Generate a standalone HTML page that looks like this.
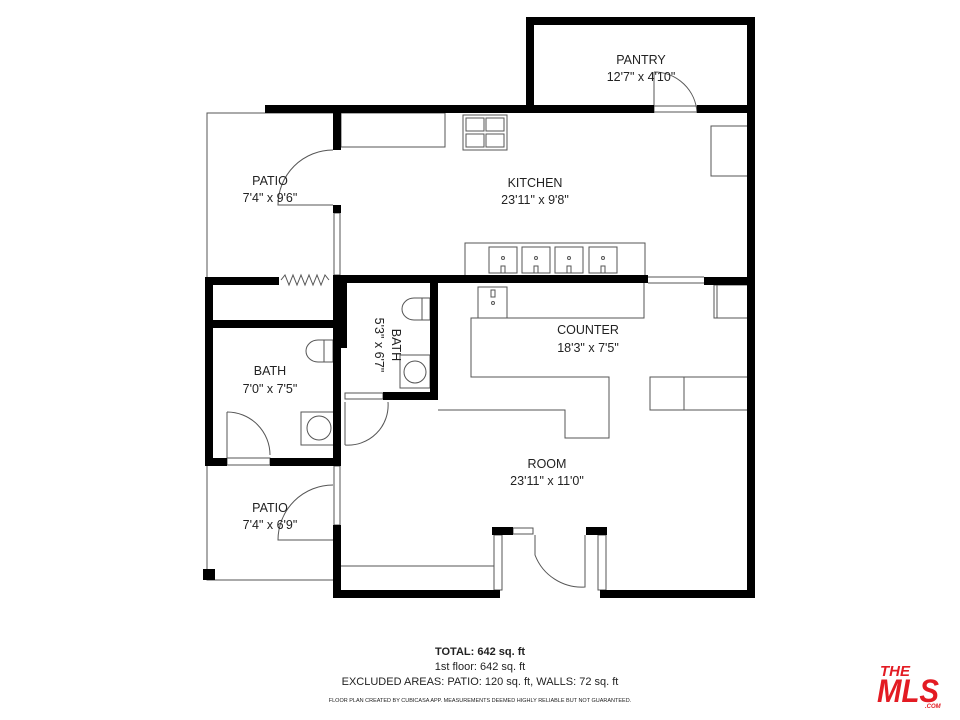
<!DOCTYPE html>
<html><head><meta charset="utf-8"><style>
html,body{margin:0;padding:0;background:#fff;}
svg{display:block;}
text{font-family:"Liberation Sans",sans-serif;fill:#222;}
</style></head><body>
<svg width="960" height="720" viewBox="0 0 960 720" xmlns="http://www.w3.org/2000/svg">
<rect width="960" height="720" fill="#fff"/>
<!-- thin outlines -->
<g fill="none" stroke="#555" stroke-width="1">
  <!-- patio 1 -->
  <polyline points="333,113 207,113 207,277"/>
  <!-- patio 2 -->
  <polyline points="207,466 207,580 333,580"/>
  <!-- kitchen counter top-left -->
  <rect x="341" y="113" width="104" height="34"/>
  <!-- stove -->
  <rect x="463" y="115" width="44" height="35"/>
  <rect x="466" y="118" width="18" height="13"/><rect x="486" y="118" width="18" height="13"/>
  <rect x="466" y="134" width="18" height="13"/><rect x="486" y="134" width="18" height="13"/>
  <!-- kitchen right appliance -->
  <rect x="711" y="126" width="37" height="50"/>
  <!-- island -->
  <rect x="465" y="243" width="180" height="34"/>
  <rect x="489" y="247" width="28" height="26"/><rect x="522" y="247" width="28" height="26"/>
  <rect x="555" y="247" width="28" height="26"/><rect x="589" y="247" width="28" height="26"/>
  <circle cx="503" cy="258" r="1.5"/><circle cx="536" cy="258" r="1.5"/><circle cx="569" cy="258" r="1.5"/><circle cx="603" cy="258" r="1.5"/>
  <rect x="501" y="266" width="4" height="7"/><rect x="534" y="266" width="4" height="7"/><rect x="567" y="266" width="4" height="7"/><rect x="601" y="266" width="4" height="7"/>
  <!-- counter polygon -->
  <polyline points="644,283 644,318 471,318 471,377 609,377 609,438 565,438 565,410 438,410"/>
  <!-- sink on counter -->
  <rect x="478" y="287" width="29" height="31"/><circle cx="493" cy="303" r="1.5"/><rect x="491" y="290" width="4" height="7"/>
  <!-- fridge right -->
  <rect x="714" y="285" width="34" height="33"/>
  <line x1="717" y1="285" x2="717" y2="318"/>
  <!-- right counter -->
  <rect x="650" y="377" width="98" height="33"/><line x1="684" y1="377" x2="684" y2="410"/>
  <!-- small bath toilet & sink -->
  <path d="M414,298 h16 v22 h-16 a12,11 0 0 1 0,-22z"/><line x1="422" y1="298" x2="422" y2="320"/>
  <rect x="400" y="355" width="30" height="33"/><circle cx="415" cy="372" r="11"/>
  <!-- big bath toilet & sink -->
  <path d="M318,340 h15 v22 h-15 a12,11 0 0 1 0,-22z"/><line x1="324" y1="340" x2="324" y2="362"/>
  <rect x="301" y="412" width="33" height="33"/><circle cx="319" cy="428" r="12"/>
  <!-- doors -->
  <path d="M333,150 A55,55 0 0 0 278,205 L333,205"/>
  <path d="M333,485 A55,55 0 0 0 278,540 L333,540"/>
  <path d="M227,412 A43,43 0 0 1 270,455 L270,455"/><line x1="227" y1="412" x2="227" y2="458"/>
  <path d="M345,445 A40,40 0 0 0 388,402"/><line x1="345" y1="402" x2="345" y2="445"/>
  <path d="M654,72 A43,43 0 0 1 697,113"/><line x1="654" y1="72" x2="654" y2="113"/>
  <path d="M535,535 L535,555 A50,50 0 0 0 585,587 L585,535"/>
  <line x1="341" y1="566" x2="494" y2="566"/>
  <!-- windows -->
  <rect x="334" y="213" width="6" height="62"/>
  <rect x="334" y="466" width="6" height="59"/>
  <rect x="227" y="458" width="43" height="7"/>
  <rect x="654" y="106" width="43" height="6"/>
  <rect x="345" y="393" width="38" height="6"/>
  <rect x="494" y="535" width="8" height="55"/><rect x="598" y="535" width="8" height="55"/>
  <rect x="513" y="528" width="20" height="6"/>
  <line x1="648" y1="277" x2="704" y2="277"/><line x1="648" y1="283" x2="704" y2="283"/>
  <polyline points="281,280 285,275 289,285 293,275 297,285 301,275 305,285 309,275 313,285 317,275 321,285 325,275 329,280"/>
</g>
<!-- walls -->
<g fill="#000">
  <rect x="526" y="17" width="229" height="8"/>
  <rect x="526" y="17" width="8" height="96"/>
  <rect x="747" y="17" width="8" height="581"/>
  <rect x="265" y="105" width="389" height="8"/>
  <rect x="697" y="105" width="58" height="8"/>
  <rect x="333" y="105" width="8" height="45"/>
  <rect x="333" y="205" width="8" height="8"/>
  <rect x="205" y="277" width="74" height="8"/>
  <rect x="333" y="275" width="315" height="8"/>
  <rect x="704" y="277" width="51" height="8"/>
  <rect x="205" y="277" width="8" height="189"/>
  <rect x="205" y="320" width="136" height="8"/>
  <rect x="333" y="275" width="14" height="73"/>
  <rect x="333" y="275" width="8" height="191"/>
  <rect x="430" y="283" width="8" height="117"/>
  <rect x="383" y="392" width="55" height="8"/>
  <rect x="205" y="458" width="22" height="8"/>
  <rect x="270" y="458" width="71" height="8"/>
  <rect x="333" y="525" width="8" height="73"/>
  <rect x="333" y="590" width="167" height="8"/>
  <rect x="600" y="590" width="155" height="8"/>
  <rect x="492" y="527" width="21" height="8"/>
  <rect x="586" y="527" width="21" height="8"/>
  <rect x="203" y="569" width="12" height="11"/>
</g>
<!-- labels -->
<g font-size="12.5" text-anchor="middle">
  <text x="641" y="64">PANTRY</text><text x="641" y="81">12'7" x 4'10"</text>
  <text x="270" y="185">PATIO</text><text x="270" y="202">7'4" x 9'6"</text>
  <text x="535" y="187">KITCHEN</text><text x="535" y="204">23'11" x 9'8"</text>
  <text x="588" y="334">COUNTER</text><text x="588" y="352">18'3" x 7'5"</text>
  <text x="270" y="375">BATH</text><text x="270" y="393">7'0" x 7'5"</text>
  <text x="547" y="468">ROOM</text><text x="547" y="485">23'11" x 11'0"</text>
  <text x="270" y="512">PATIO</text><text x="270" y="529">7'4" x 6'9"</text>
  <text transform="translate(392,345) rotate(90)">BATH</text>
  <text transform="translate(375,345) rotate(90)">5'3" x 6'7"</text>
</g>
<g text-anchor="middle" font-size="11">
  <text x="480" y="655" font-weight="bold">TOTAL: 642 sq. ft</text>
  <text x="480" y="670">1st floor: 642 sq. ft</text>
  <text x="480" y="685">EXCLUDED AREAS: PATIO: 120 sq. ft, WALLS: 72 sq. ft</text>
  <text x="480" y="702" font-size="5.5">FLOOR PLAN CREATED BY CUBICASA APP. MEASUREMENTS DEEMED HIGHLY RELIABLE BUT NOT GUARANTEED.</text>
</g>
<g fill="#e31b23" font-weight="bold" font-style="italic">
  <text x="880" y="676" font-size="15" style="fill:#e31b23">THE</text>
  <text x="877" y="702" font-size="32" style="fill:#e31b23" textLength="62" lengthAdjust="spacingAndGlyphs">MLS</text>
  <text x="925" y="708" font-size="6" style="fill:#e31b23">.COM</text>
</g>
</svg>
</body></html>
